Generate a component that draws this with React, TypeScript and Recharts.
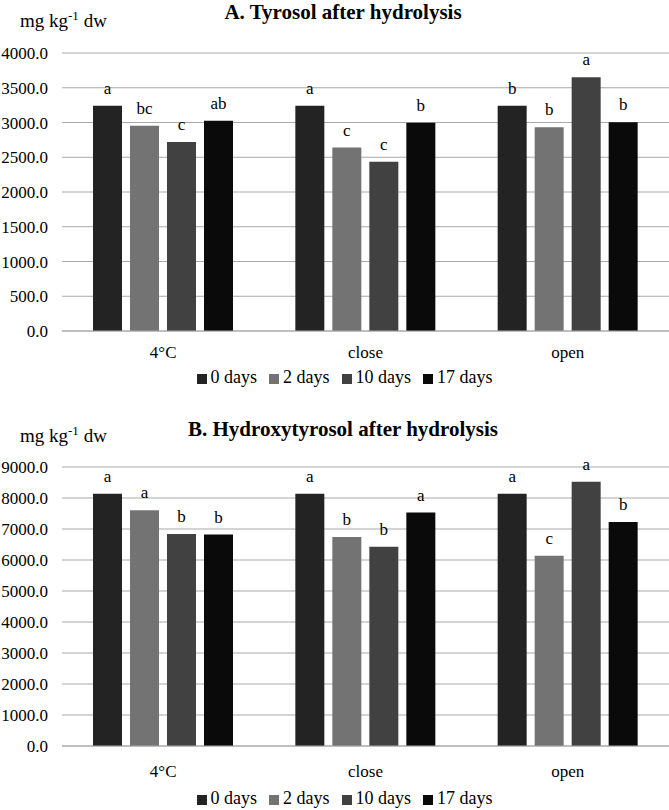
import React from 'react'
import { BarChart, Bar, XAxis, YAxis, CartesianGrid, Legend, LabelList } from 'recharts'

const categories = ['4°C', 'close', 'open']
const seriesNames = ['0 days', '2 days', '10 days', '17 days']
const seriesColors = ['#232323', '#737373', '#414141', '#0a0a0a']

const tyrosol0 = [3240, 3240, 3240]
const tyrosol2 = [2955, 2640, 2930]
const tyrosol10 = [2720, 2435, 3650]
const tyrosol17 = [3025, 2995, 3005]
const tyrosolLetters = [
  ['a', 'bc', 'c', 'ab'],
  ['a', 'c', 'c', 'b'],
  ['b', 'b', 'a', 'b'],
]
const tyrosolTicks = [0, 500, 1000, 1500, 2000, 2500, 3000, 3500, 4000]

const hydroxy0 = [8140, 8140, 8140]
const hydroxy2 = [7605, 6740, 6140]
const hydroxy10 = [6840, 6430, 8525]
const hydroxy17 = [6820, 7530, 7225]
const hydroxyLetters = [
  ['a', 'a', 'b', 'b'],
  ['a', 'b', 'b', 'a'],
  ['a', 'c', 'a', 'b'],
]
const hydroxyTicks = [0, 1000, 2000, 3000, 4000, 5000, 6000, 7000, 8000, 9000]

const FONT = '"Liberation Serif", "Times New Roman", serif'
const GRID = '#a9a9a9'

function buildRows(s0: number[], s1: number[], s2: number[], s3: number[], letters: string[][]) {
  return categories.map((name, i) => ({
    name,
    s0: s0[i],
    s1: s1[i],
    s2: s2[i],
    s3: s3[i],
    l0: letters[i][0],
    l1: letters[i][1],
    l2: letters[i][2],
    l3: letters[i][3],
  }))
}

interface PanelProps {
  top: number
  height: number
  axisHeight: number
  labelMargin: number
  titleTop: number
  unitTop: number
  title: string
  rows: ReturnType<typeof buildRows>
  ticks: number[]
}

function Panel({ top, height, axisHeight, labelMargin, titleTop, unitTop, title, rows, ticks }: PanelProps) {
  const max = ticks[ticks.length - 1]
  return (
    <div style={{ position: 'absolute', left: 0, top, width: 669, height, fontFamily: FONT }}>
      <div style={{ position: 'absolute', left: 20, top: unitTop, fontSize: 19, color: '#000', zIndex: 2 }}>
        mg kg<sup style={{ fontSize: 13 }}>-1</sup> dw
      </div>
      <div
        style={{
          position: 'absolute',
          left: 0,
          width: 686,
          top: titleTop,
          textAlign: 'center',
          fontSize: 21,
          fontWeight: 'bold',
          color: '#000',
          zIndex: 2,
        }}
      >
        {title}
      </div>
      <BarChart
        width={669}
        height={height}
        data={rows}
        margin={{ top: 53, right: 0, left: 0, bottom: 4 }}
        barSize={29}
        barGap={8}
        style={{ fontFamily: FONT }}
      >
        <CartesianGrid vertical={false} stroke={GRID} strokeWidth={1} />
        <XAxis
          dataKey="name"
          axisLine={{ stroke: GRID }}
          tickLine={false}
          tickMargin={labelMargin}
          height={axisHeight}
          tick={{ fill: '#000', fontSize: 17, fontFamily: FONT }}
        />
        <YAxis
          domain={[0, max]}
          ticks={ticks}
          width={62}
          axisLine={false}
          tickLine={false}
          tickMargin={8}
          interval={0}
          tickFormatter={(v: number) => v.toFixed(1)}
          tick={{ fill: '#000', fontSize: 17, fontFamily: FONT }}
        />
        <Legend
          verticalAlign="bottom"
          align="center"
          iconType="square"
          iconSize={10}
          itemSorter="dataKey"
          wrapperStyle={{ fontSize: 18, fontFamily: FONT, color: '#000', left: 16, width: 669 }}
          formatter={(value: string) => <span style={{ color: '#000', paddingRight: 2 }}>{value}</span>}
        />
        {seriesNames.map((s, i) => (
          <Bar key={s} dataKey={`s${i}`} name={s} fill={seriesColors[i]} isAnimationActive={false}>
            <LabelList
              dataKey={`l${i}`}
              position="top"
              offset={12}
              style={{ fill: '#000', fontSize: 17, fontFamily: FONT }}
            />
          </Bar>
        ))}
      </BarChart>
    </div>
  )
}

export default function App() {
  const rowsA = buildRows(tyrosol0, tyrosol2, tyrosol10, tyrosol17, tyrosolLetters)
  const rowsB = buildRows(hydroxy0, hydroxy2, hydroxy10, hydroxy17, hydroxyLetters)
  return (
    <div style={{ position: 'absolute', left: 0, top: 0, width: 669, height: 810, background: '#fff' }}>
      <Panel
        top={0}
        height={392}
        axisHeight={36}
        labelMargin={9}
        titleTop={0}
        unitTop={8}
        title="A. Tyrosol after hydrolysis"
        rows={rowsA}
        ticks={tyrosolTicks}
      />
      <Panel
        top={414}
        height={399}
        axisHeight={42}
        labelMargin={13}
        titleTop={3}
        unitTop={9}
        title="B. Hydroxytyrosol after hydrolysis"
        rows={rowsB}
        ticks={hydroxyTicks}
      />
    </div>
  )
}
